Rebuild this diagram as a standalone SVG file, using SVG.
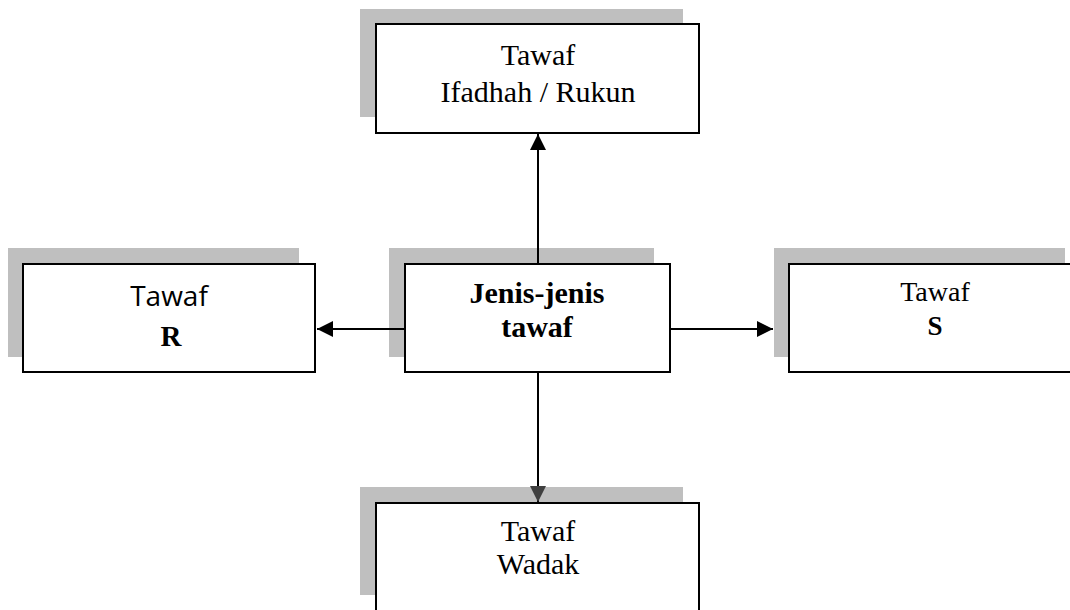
<svg xmlns="http://www.w3.org/2000/svg" width="1070" height="610" viewBox="0 0 1070 610">
  <style>
    .shadow { fill: #bfbfbf; }
    .box { fill: #ffffff; stroke: #000000; stroke-width: 2; }
    .serif { font-family: "Liberation Serif", "Times New Roman", serif; font-size: 30px; fill: #000; text-anchor: middle; }
    .bold { font-weight: bold; }
    .sans { font-family: "Open Sans", "Liberation Sans", sans-serif; font-size: 28px; fill: #000; text-anchor: middle; }
    .conn { stroke: #000; stroke-width: 2; fill: none; }
  </style>
  <defs>
    <marker id="arrow" viewBox="0 0 16 16" refX="16" refY="8" markerWidth="16" markerHeight="16" markerUnits="userSpaceOnUse" orient="auto">
      <path d="M0,0 L16,8 L0,16 Z" fill="#000"/>
    </marker>
    <marker id="arrowGray" viewBox="0 0 16 16" refX="16" refY="8" markerWidth="16" markerHeight="16" markerUnits="userSpaceOnUse" orient="auto">
      <path d="M0,0 L16,8 L0,16 Z" fill="#404040"/>
    </marker>
  </defs>

  <g id="node-top">
    <rect class="shadow" x="360" y="9" width="323" height="108"/>
    <rect class="box" x="376" y="24" width="323" height="109"/>
    <text class="serif" x="538" y="65">Tawaf</text>
    <text class="serif" x="538" y="102">Ifadhah / Rukun</text>
  </g>

  <g id="node-left">
    <rect class="shadow" x="8" y="248" width="291" height="109"/>
    <rect class="box" x="23" y="264" width="292" height="108"/>
    <text class="sans" x="169" y="306">Tawaf</text>
    <text class="serif bold" x="171" y="346" style="font-size:29px">R</text>
  </g>

  <g id="node-center">
    <rect class="shadow" x="389" y="248" width="265" height="109"/>
    <rect class="box" x="405" y="264" width="265" height="108"/>
    <text class="serif bold" x="537" y="303">Jenis-jenis</text>
    <text class="serif bold" x="537" y="337">tawaf</text>
  </g>

  <g id="node-right">
    <rect class="shadow" x="774" y="248" width="291" height="109"/>
    <rect class="box" x="789" y="264" width="300" height="108"/>
    <text class="serif" x="935" y="301" style="font-size:28px">Tawaf</text>
    <text class="serif bold" x="935" y="335" style="font-size:27px">S</text>
  </g>

  <g id="node-bottom">
    <rect class="shadow" x="360" y="487" width="323" height="108"/>
    <rect class="box" x="376" y="503" width="323" height="130"/>
    <text class="serif" x="538" y="541">Tawaf</text>
    <text class="serif" x="538" y="574">Wadak</text>
  </g>

  <g id="connectors">
    <line class="conn" x1="538" y1="264" x2="538" y2="134" marker-end="url(#arrow)"/>
    <line class="conn" x1="405" y1="329" x2="317" y2="329" marker-end="url(#arrow)"/>
    <line class="conn" x1="670" y1="329" x2="773" y2="329" marker-end="url(#arrow)"/>
    <line class="conn" x1="538" y1="372" x2="538" y2="502" stroke="#262626" marker-end="url(#arrowGray)"/>
  </g>
</svg>
